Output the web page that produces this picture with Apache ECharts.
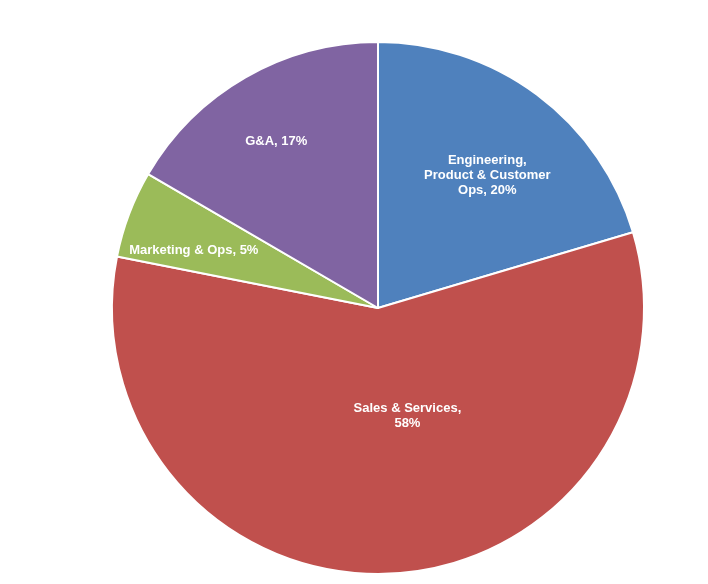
<!DOCTYPE html>
<html>
<head>
<meta charset="utf-8">
<script src="https://cdn.jsdelivr.net/npm/echarts@6/dist/echarts.min.js"></script>
<style>
  html, body { margin: 0; padding: 0; background: #fff; }
  #main { width: 708px; height: 584px; }
</style>
</head>
<body>
<div id="main"></div>
<script>
// 分类及占比 (clockwise from 12 o'clock)
var categories = ['Engineering, Product & Customer Ops', 'Sales & Services', 'Marketing & Ops', 'G&A'];
var values = [20.4, 57.7, 5.3, 16.6];
// label text as wrapped in the picture
var labelLines = [
    ['Engineering,', 'Product & Customer', 'Ops'],
    ['Sales & Services,', ''],
    ['Marketing & Ops'],
    ['G&A']
];
var colors = ['#4F81BD', '#C0504D', '#9BBB59', '#8064A2'];
// nudges so labels sit where the original put them
var labelOffsets = [[28, -24], [23, -28], [-57, -10], [-34, -49]];

var myChart = echarts.init(document.getElementById('main'));

var data = categories.map(function (name, i) {
    return {
        name: name,
        value: values[i],
        itemStyle: { color: colors[i] },
        label: { offset: labelOffsets[i] }
    };
});

var option = {
    backgroundColor: '#ffffff',
    animation: false,
    series: [
        {
            type: 'pie',
            center: [378, 308],
            radius: [0, 266],
            startAngle: 90,
            clockwise: true,
            avoidLabelOverlap: false,
            itemStyle: {
                borderColor: '#ffffff',
                borderWidth: 2
            },
            label: {
                show: true,
                position: 'inside',
                color: '#ffffff',
                fontFamily: 'Liberation Sans, Arial, sans-serif',
                fontWeight: 'bold',
                fontSize: 13,
                lineHeight: 15,
                align: 'center',
                formatter: function (params) {
                    var lines = labelLines[params.dataIndex].slice();
                    var pct = Math.round(params.percent) + '%';
                    var last = lines.length - 1;
                    if (lines[last] === '') {
                        lines[last] = pct;
                    } else {
                        lines[last] = lines[last] + ', ' + pct;
                    }
                    return lines.join('\n');
                }
            },
            labelLine: { show: false },
            emphasis: { disabled: true },
            data: data
        }
    ]
};

myChart.setOption(option);
</script>
</body>
</html>
